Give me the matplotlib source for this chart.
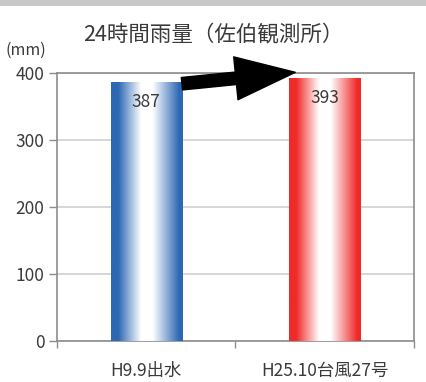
import numpy as np
import matplotlib
matplotlib.use("Agg")
import matplotlib.pyplot as plt
from matplotlib.colors import LinearSegmentedColormap
from matplotlib.patches import Rectangle

plt.rcParams['font.family'] = ['Noto Sans CJK JP', 'DejaVu Sans']

# 24-hour rainfall at the Saiki station
events = ['H9.9出水', 'H25.10台風27号']
rainfall = [387, 393]
edge_colors = ['#2d68b4', '#f02a2a']
title = '24時間雨量（佐伯観測所）'
unit = '(mm)'
yticks = [0, 100, 200, 300, 400]

text_color = '#3a3a3a'
spine_color = '#8c8c8c'
grid_color = '#d0d0d0'

fig = plt.figure(figsize=(4.27, 3.82), dpi=100)
fig.patch.set_facecolor('white')
# thin grey band along the top edge
fig.patches.append(Rectangle((0, 0.985), 1, 0.015, transform=fig.transFigure,
                             facecolor='#c8c8c8', edgecolor='none'))

ax = fig.add_axes([0.1335, 0.1073, 0.836, 0.7016])

x = np.arange(len(events))
bars = ax.bar(x, rainfall, width=0.4, facecolor='none', edgecolor='none', zorder=3)

# horizontal gradient: colour at both edges, white in the middle
grad = np.linspace(0, 1, 256).reshape(1, -1)
for bar, col in zip(bars, edge_colors):
    cmap = LinearSegmentedColormap.from_list(
        'g', [(0, col), (0.1, col), (0.42, 'white'), (0.58, 'white'), (0.95, col), (1, col)])
    x0 = bar.get_x()
    im = ax.imshow(grad, cmap=cmap, aspect='auto', zorder=3,
                   extent=[x0, x0 + bar.get_width(), 0, bar.get_height()])
    im.set_clip_path(bar)

for xi, v in zip(x, rainfall):
    ax.text(xi, v - 30, str(v), ha='center', va='center', fontsize=12.5,
            color=text_color, zorder=5)

ax.set_xlim(-0.5, 1.5)
ax.set_ylim(0, 400)
ax.set_yticks(yticks)
ax.set_xticks(x)
ax.set_xticklabels(events)
ax.set_xticks([-0.5, 0.5, 1.5], minor=True)
ax.tick_params(axis='x', which='major', length=0, pad=15, labelsize=12.5,
               colors=text_color)
ax.tick_params(axis='x', which='minor', length=5, width=1, color=spine_color)
ax.tick_params(axis='y', length=6, width=1, color=spine_color, labelsize=12.5,
               labelcolor=text_color, pad=3)
ax.yaxis.grid(True, color=grid_color, linewidth=1.2, zorder=0)
ax.set_axisbelow(True)
for s in ax.spines.values():
    s.set_color(spine_color)
    s.set_linewidth(1.2)

# black arrow from the first bar up to the second
ax.annotate('', xy=(0.835, 401), xytext=(0.2, 384),
            arrowprops=dict(arrowstyle='simple,head_length=4.3,head_width=3.1,tail_width=0.9',
                            mutation_scale=10, color='black', shrinkA=0, shrinkB=0,
                            clip_on=False),
            annotation_clip=False, zorder=6)

fig.text(213 / 427, 1 - 34 / 382, title, ha='center', va='center',
         fontsize=15.5, color=text_color)
fig.text(6 / 427, 1 - 50 / 382, unit, ha='left', va='center',
         fontsize=11.5, color=text_color)

fig.savefig('out.png', dpi=100, facecolor='white')
